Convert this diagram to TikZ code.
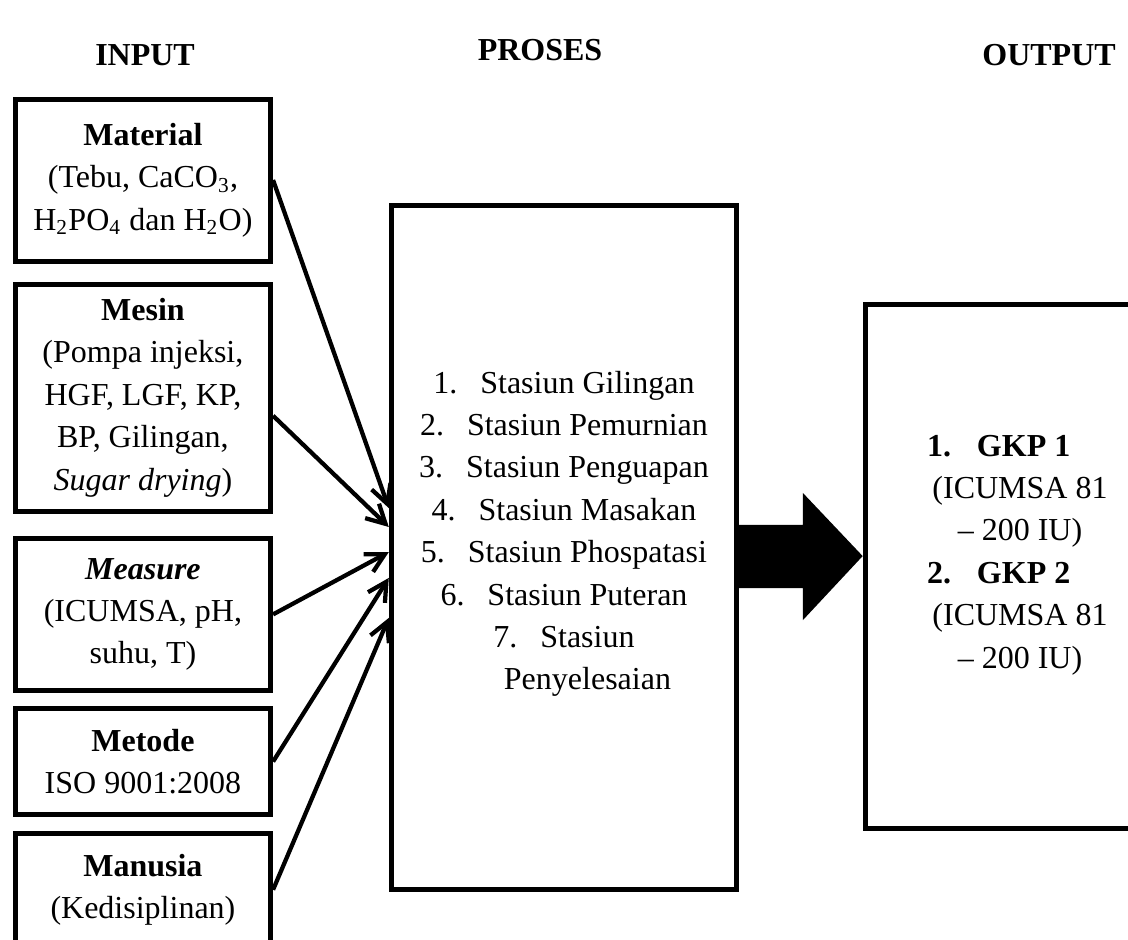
\documentclass[tikz,border=0pt]{standalone}
\usepackage{fontspec}
\setmainfont{Liberation Serif}
\usetikzlibrary{positioning, arrows.meta}

\begin{document}
\begin{tikzpicture}[x=1pt, y=1pt, font=\fontsize{12}{15.9}\selectfont, >={Straight Barb[length=7pt,width=7.5pt]}]
        \tikzset{box/.style={draw, line width=1.9pt, align=center, inner sep=2pt},
                 inbox/.style={box, minimum width=95.7pt},
                 title/.style={font=\fontsize{12}{15.9}\selectfont\bfseries, anchor=base},
                 link/.style={->, line width=1.6pt}}
        \useasboundingbox (0,0) rectangle (423,352.125);

        \node[title] (input) at (54.4,327.4) {INPUT};
        \node[title] (proses_t) at (202.5,329.25) {PROSES};
        \node[title] (output_t) at (393.4,327.4) {OUTPUT};

        % Kolom input
        \node[inbox, minimum height=60.75pt] (material) at (53.6,284.6)
            {\textbf{Material}\\(Tebu, CaCO\textsubscript{3},\\H\textsubscript{2}PO\textsubscript{4} dan H\textsubscript{2}O)};
        \node[inbox, minimum height=85.2pt] (mesin) [below=6.75pt of material]
            {\textbf{Mesin}\\(Pompa injeksi,\\HGF, LGF, KP,\\BP, Gilingan,\\\textit{Sugar drying})};
        \node[inbox, minimum height=57pt] (measure) [below=8.25pt of mesin]
            {\textbf{\textit{Measure}}\\(ICUMSA, pH,\\suhu, T)};
        \node[inbox, minimum height=39.8pt] (metode) [below=4.9pt of measure]
            {\textbf{Metode}\\ISO 9001:2008};
        \node[inbox, minimum height=42pt] (manusia) [below=5.25pt of metode]
            {\textbf{Manusia}\\(Kedisiplinan)};

        \node[box, minimum width=129.5pt, minimum height=256.6pt] (proses) at (211.5,146.8) {};
        \node[align=center] (proses_list) at (211.5,151.9)
            {1.\hspace{8.6pt}Stasiun Gilingan\\2.\hspace{8.6pt}Stasiun Pemurnian\\3.\hspace{8.6pt}Stasiun Penguapan\\
             4.\hspace{8.6pt}Stasiun Masakan\\5.\hspace{8.6pt}Stasiun Phospatasi\\6.\hspace{8.6pt}Stasiun Puteran\\
             7.\hspace{8.6pt}Stasiun\\\hspace*{17.6pt}Penyelesaian};

        \node[box, minimum width=121.9pt, minimum height=196.6pt] (output) at (385.4,139.7) {};
        \node[align=center] (output_list) at (382.5,144)
            {\textbf{1.\hspace{9.75pt}GKP 1}\hspace*{16pt}\mbox{}\\(ICUMSA 81\\-- 200 IU)\\
             \textbf{2.\hspace{9.75pt}GKP 2}\hspace*{16pt}\mbox{}\\(ICUMSA 81\\-- 200 IU)};

        \draw[link] (material.east) -- ([yshift=14.8pt]proses.west);
        \draw[link] ([yshift=-6.75pt]mesin.east) -- ([yshift=7.7pt]proses.west);
        \draw[link] (measure.east) -- ([yshift=-1.7pt]proses.west);
        \draw[link] (metode.east) -- ([yshift=-11.4pt]proses.west);
        \draw[link] (manusia.east) -- ([yshift=-26.4pt]proses.west);

        % panah besar proses -> output
        \fill (proses.east |- 0,155.25) -- (301.1,155.25) -- (301.1,167.25) -- (output.west |- 0,143.6)
            -- (301.1,119.6) -- (301.1,131.6) -- (proses.east |- 0,131.6) -- cycle;
\end{tikzpicture}
\end{document}
